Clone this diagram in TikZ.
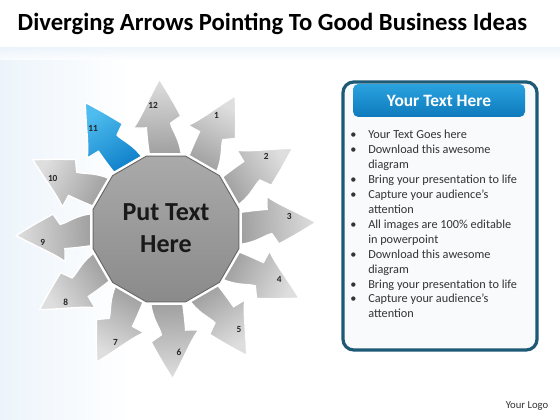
\documentclass[tikz,border=0pt]{standalone}
\usepackage{fontspec}
\setmainfont{Carlito}
\usetikzlibrary{positioning}
\definecolor{arrowgray}{RGB}{150,150,150}
\definecolor{arrowmid}{RGB}{188,188,188}
\definecolor{arrowlight}{RGB}{222,222,222}
\definecolor{arrowblue}{RGB}{4,118,196}
\definecolor{arrowbluemid}{RGB}{24,150,218}
\definecolor{arrowsky}{RGB}{78,188,238}
\definecolor{hubtop}{RGB}{170,170,170}
\definecolor{hubbottom}{RGB}{138,138,138}
\definecolor{panelblue}{RGB}{30,90,118}
\definecolor{panelfill}{RGB}{248,250,252}
\definecolor{headdark}{RGB}{14,122,188}
\definecolor{headlight}{RGB}{42,162,222}
\definecolor{bgtint}{RGB}{236,244,251}
\begin{document}
\begin{tikzpicture}[x=0.75pt, y=0.75pt,
	num/.style={font=\bfseries\fontsize{7}{8}\selectfont, text=black!85, inner sep=0pt},
	hubtext/.style={font=\bfseries\fontsize{19.5}{24}\selectfont, align=center, text=black!90},
	]
		\useasboundingbox (0,0) rectangle (560,420);
		\fill[white] (0,0) rectangle (560,420);
		\shade[left color=bgtint, right color=white] (0,0) rectangle (130,372);
		\shade[top color=bgtint, bottom color=white, opacity=0.8] (0,372) rectangle (560,360);
		\node[font=\bfseries\fontsize{18.5}{22}\selectfont, anchor=west] (title) at (13,396) {Diverging Arrows Pointing To Good Business Ideas};
		\def\arrowlabels{{12,1,2,3,4,5,6,7,8,9,10,11}}
		\foreach \i in {0, 1, ..., 11} {
			\pgfmathsetmacro\a{92.5-30*\i}
			\pgfmathsetmacro\sa{\a-90}
			\pgfmathtruncatemacro\n{array(\arrowlabels,\i)}
			\ifnum\i=11 \def\lo{arrowblue}\def\mi{arrowbluemid}\def\hi{arrowsky}\else\def\lo{arrowgray}\def\mi{arrowmid}\def\hi{arrowlight}\fi
			\begin{scope}[shift={(166,191)}, rotate=\a]
				\shade[draw=white, line width=1pt, bottom color=\lo, middle color=\mi, top color=\hi, shading angle=\sa]
					(-17:64) .. controls (-13:90) and (-6:98) .. (-5:106) -- (-10:114)
					.. controls (-5:130) .. (0:150) .. controls (5:132) and (10:114) .. (15.5:106)
					-- (8.5:103) .. controls (9.5:88) .. (11:64) -- cycle;
				\node[num] (n\n) at (3.5:124) {\n};
			\end{scope}
		}
		\begin{scope}[shift={(166,191)}]
			\shade[draw=white, line width=2.2pt, top color=hubtop, bottom color=hubbottom]
				(15:77) \foreach \k in {1, ..., 11} { -- (15+30*\k:77) } -- cycle;
			\draw[black!60, line width=0.7pt]
				(15:75.5) \foreach \k in {1, ..., 11} { -- (15+30*\k:75.5) } -- cycle;
		\end{scope}
		\node[hubtext] (hub) at (166,192) {Put Text\\Here};
		\draw[panelblue, line width=2.4pt, rounded corners=8pt, fill=panelfill] (343,70) rectangle (537,338);
		\shade[top color=headlight, bottom color=headdark, rounded corners=4pt] (353,303) rectangle (525,336);
		\node[font=\bfseries\fontsize{13}{15}\selectfont, text=white] (head) at (439,319.5) {Your Text Here};
		\node[anchor=north west, inner sep=0pt, font=\fontsize{9.2}{11.2}\selectfont, text=black!80] (list) at (350,292) {%
			\begin{tabular}{@{}p{13.5pt}@{}l@{}}
				\textbullet & Your Text Goes here\\
				\textbullet & Download this awesome\\
				& diagram\\
				\textbullet & Bring your presentation to life\\
				\textbullet & Capture your audience’s\\
				& attention\\
				\textbullet & All images are 100\% editable\\
				& in powerpoint\\
				\textbullet & Download this awesome\\
				& diagram\\
				\textbullet & Bring your presentation to life\\
				\textbullet & Capture your audience’s\\
				& attention
			\end{tabular}};
		\node[font=\fontsize{8}{9}\selectfont, text=black!80] (logo) at (527,14) {Your Logo};
	\end{tikzpicture}
\end{document}
